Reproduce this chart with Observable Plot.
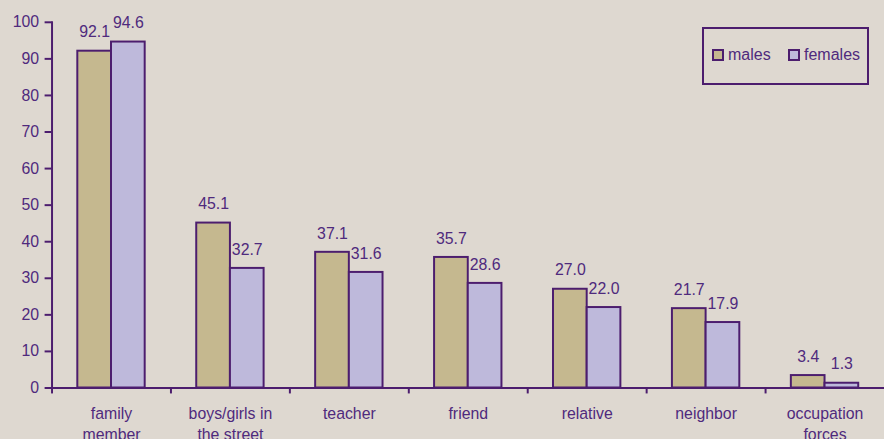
<!DOCTYPE html>
<html>
<head>
<meta charset="utf-8">
<script src="https://cdn.jsdelivr.net/npm/d3@7"></script>
<script src="https://cdn.jsdelivr.net/npm/@observablehq/plot@0.6"></script>
<style>
  html, body { margin: 0; padding: 0; background: #DED8D0; overflow: hidden; width: 884px; height: 439px; }
  #wrap { position: relative; width: 884px; height: 439px; overflow: hidden; }
  #chart { position: absolute; left: 0; top: 0; }
  #legend {
    position: absolute; left: 702px; top: 27px; width: 163px; height: 54px;
    border: 2px solid #4C1D6E; box-sizing: content-box;
    font-family: "Liberation Sans", Arial, sans-serif; font-size: 16px; color: #4F2A7D;
  }
  .item { position: absolute; top: 17px; display: flex; align-items: center; height: 18px; }
  .sw { width: 8px; height: 8px; border: 2px solid #4C1D6E; margin-right: 4px; }
</style>
</head>
<body>
<div id="wrap">
  <div id="chart"></div>
  <div id="legend"></div>
</div>
<script>
const categories = ["family member", "boys/girls in the street", "teacher", "friend", "relative", "neighbor", "occupation forces"];
const tickLabels = ["family\nmember", "boys/girls in\nthe street", "teacher", "friend", "relative", "neighbor", "occupation\nforces"];
const males = [92.1, 45.1, 37.1, 35.7, 27.0, 21.7, 3.4];
const females = [94.6, 32.7, 31.6, 28.6, 22.0, 17.9, 1.3];
const series = ["males", "females"];
const yTicks = [0, 10, 20, 30, 40, 50, 60, 70, 80, 90, 100];

const fills = ["#C5B88F", "#BEB9DB"];
const lineColor = "#4C1D6E";
const textColor = "#4F2A7D";

const data = categories.flatMap((c, i) => [
  {category: c, sex: "males", value: males[i]},
  {category: c, sex: "females", value: females[i]}
]);

const chart = Plot.plot({
  width: 892,
  height: 451,
  marginLeft: 52,
  marginRight: 0,
  marginTop: 22,
  marginBottom: 60,
  style: {background: "transparent", fontFamily: "'Liberation Sans', Arial, sans-serif", fontSize: "16px", color: textColor, overflow: "visible"},
  fx: {domain: categories, padding: 0, label: null, round: false},
  x: {domain: series, paddingInner: 0, paddingOuter: 0.765, axis: null, round: false},
  y: {domain: [0, 100], label: null},
  color: {domain: series, range: fills},
  marks: [
    Plot.barY(data, {fx: "category", x: "sex", y: "value", fill: "sex", stroke: lineColor, strokeWidth: 2}),
    Plot.text(data, {fx: "category", x: "sex", y: "value", text: d => d.value.toFixed(1), dy: -19, fill: textColor, fontSize: 16}),
    Plot.frame({anchor: "left", facetAnchor: "left", stroke: lineColor, strokeWidth: 2}),
    Plot.frame({anchor: "bottom", stroke: lineColor, strokeWidth: 2}),
    Plot.axisY({ticks: yTicks, tickSize: 7, tickPadding: 6, stroke: lineColor, strokeWidth: 2, fill: textColor, fontSize: 16, label: null, facetAnchor: "left"}),
    Plot.axisFx({anchor: "bottom", tickSize: 6, tickFormat: () => "", dx: -60, stroke: lineColor, strokeWidth: 2, label: null}),
    Plot.axisFx({anchor: "bottom", tickSize: 0, tickPadding: 17, tickFormat: d => tickLabels[categories.indexOf(d)], lineHeight: 1.3, fill: textColor, fontSize: 16, label: null})
  ]
});
document.getElementById("chart").appendChild(chart);

const legend = document.getElementById("legend");
const legendX = [8, 84];
series.forEach((s, i) => {
  const item = document.createElement("div");
  item.className = "item";
  item.style.left = legendX[i] + "px";
  const sw = document.createElement("div");
  sw.className = "sw";
  sw.style.background = fills[i];
  const t = document.createElement("span");
  t.textContent = s;
  item.appendChild(sw);
  item.appendChild(t);
  legend.appendChild(item);
});
</script>
</body>
</html>
